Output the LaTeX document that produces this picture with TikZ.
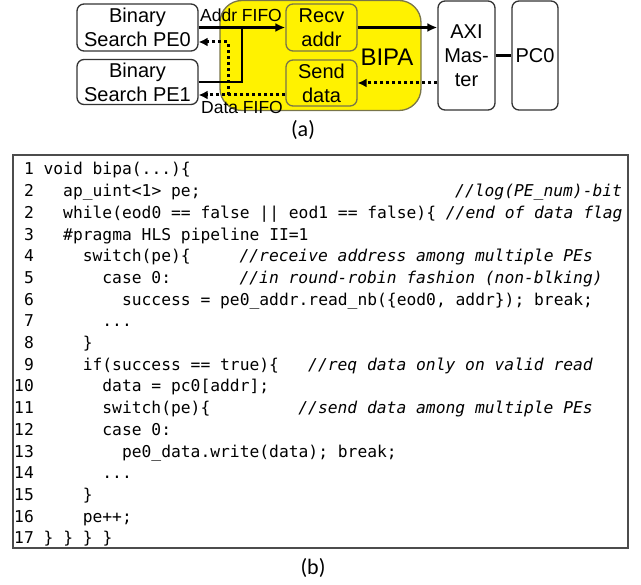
\documentclass[tikz,border=0pt]{standalone}
\usepackage{fontspec}
\setmainfont{Liberation Sans}
\newfontfamily\codefont{DejaVu Sans Mono}
\newfontfamily\capfont{Carlito}
\usetikzlibrary{arrows.meta}

\tikzset{
	blk/.style={draw=black!80, line width=1.3pt, rounded corners=7pt, fill=white, align=center, inner sep=0pt, font=\fontsize{20}{24}\selectfont},
	ylw/.style={blk, fill=yellow, draw=black!60!yellow},
	wire/.style={line width=2.6pt, -{Latex[length=10pt,width=9pt]}},
	dots/.style={line width=3pt, dash pattern=on 3pt off 3pt, -{Latex[length=9pt,width=9pt]}},
	fifo/.style={inner sep=0pt, font=\fontsize{17.5}{17.5}\selectfont},
	codetext/.style={anchor=base west, inner sep=0pt, font=\codefont\fontsize{16.3}{20}\selectfont}
}
\newcommand\codeln[3]{\node[codetext] (c-#1-#2) at ({14+#2*9.8},{175+21.7*(#1-1)}) {#3};}

\begin{document}
\begin{tikzpicture}[x=1pt,y=-1pt]
	\useasboundingbox (0,0) rectangle (641,585);
	% (a) block diagram
	\node[ylw, rounded corners=22pt, minimum width=201pt, minimum height=110pt] (bipa) at (320.5,55.5) {};
	\path (137.5,27.5) node (pe0) [blk, minimum width=121pt, minimum height=47pt] {Binary\\Search PE0}
		  (137.5,82) node (pe1) [blk, minimum width=121pt, minimum height=45pt] {Binary\\Search PE1}
		  (321.5,27.5) node (recv) [ylw, minimum width=71pt, minimum height=47pt] {Recv\\addr}
		  (321.5,83) node (send) [ylw, minimum width=71pt, minimum height=46pt] {Send\\data}
		  (387,57) node (bipalbl) [font=\fontsize{24}{24}\selectfont] {BIPA}
		  (466.5,55.5) node (axi) [blk, minimum width=57pt, minimum height=109pt] {AXI\\Mas-\\ter}
		  (535,55.5) node (pc0) [blk, minimum width=46pt, minimum height=109pt] {PC0};
	\coordinate (ajoin) at (242,27.5);
	\coordinate (dsplit) at (228,95);
	\coordinate (dup) at (228,42);
	\draw[wire] (pe0.east) -- (recv.west);
	\draw[line width=2.6pt] (pe1.east) -| (ajoin);
	\draw[wire] (recv.east) -- (axi.west |- recv.east);
	\draw[line width=2.6pt] (axi.east) -- (pc0.west);
	\draw[dots] (axi.west |- send.east) -- (send.east);
	\draw[dots] (send.west |- dsplit) -- (pe1.east |- dsplit);
	\draw[dots] (dsplit) -- (dup) -- (pe0.east |- dup);
	\node[fifo] (afifo) at (241,15) {Addr FIFO};
	\node[fifo] (dfifo) at (242,107) {Data FIFO};
	\node[font=\capfont\fontsize{22}{22}\selectfont] (capa) at (303,130) {(a)};
	% (b) code listing
	\node[draw=black!70, line width=1.2pt, minimum width=615pt, minimum height=393pt] (codebox) at (320.5,351.5) {};
	\codeln{1}{1}{1}      \codeln{1}{3}{void bipa(...)\{}
	\codeln{2}{1}{2}      \codeln{2}{5}{ap\_uint<1> pe;}
	\codeln{2}{45}{\itshape //log(PE\_num)-bit}
	\codeln{3}{1}{2}      \codeln{3}{5}{while(eod0 == false || eod1 == false)\{ {\itshape //end of data flag}}
	\codeln{4}{1}{3}      \codeln{4}{5}{\#pragma HLS pipeline II=1}
	\codeln{5}{1}{4}      \codeln{5}{7}{switch(pe)\{}
	\codeln{5}{23}{\itshape //receive address among multiple PEs}
	\codeln{6}{1}{5}      \codeln{6}{9}{case 0:}
	\codeln{6}{23}{\itshape //in round-robin fashion (non-blking)}
	\codeln{7}{1}{6}      \codeln{7}{11}{success = pe0\_addr.read\_nb(\{eod0, addr\}); break;}
	\codeln{8}{1}{7}      \codeln{8}{9}{...}
	\codeln{9}{1}{8}      \codeln{9}{7}{\}}
	\codeln{10}{1}{9}     \codeln{10}{7}{if(success == true)\{}
	\codeln{10}{30}{\itshape //req data only on valid read}
	\codeln{11}{0}{10}    \codeln{11}{9}{data = pc0[addr];}
	\codeln{12}{0}{11}    \codeln{12}{9}{switch(pe)\{}
	\codeln{12}{29}{\itshape //send data among multiple PEs}
	\codeln{13}{0}{12}    \codeln{13}{9}{case 0:}
	\codeln{14}{0}{13}    \codeln{14}{11}{pe0\_data.write(data); break;}
	\codeln{15}{0}{14}    \codeln{15}{9}{...}
	\codeln{16}{0}{15}    \codeln{16}{7}{\}}
	\codeln{17}{0}{16}    \codeln{17}{7}{pe++;}
	\codeln{18}{0}{17 \} \} \} \}}
	\node[font=\capfont\fontsize{22}{22}\selectfont] (capb) at (313,568) {(b)};
\end{tikzpicture}
\end{document}
